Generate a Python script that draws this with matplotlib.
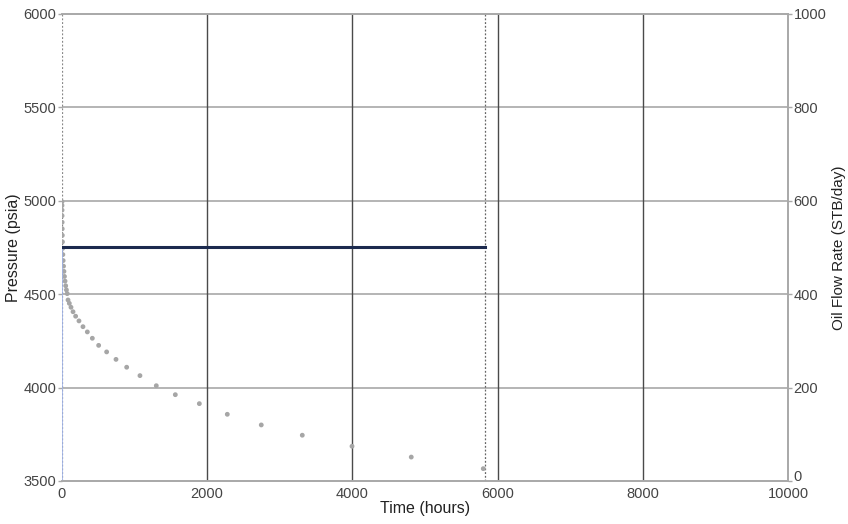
import numpy as np
import matplotlib.pyplot as plt
from matplotlib.transforms import ScaledTranslation

plt.rcParams['font.family'] = ['Liberation Sans', 'DejaVu Sans']

# flowing bottomhole pressure, hours / psia
t_p = [0, 0.3, 0.7, 1.2, 2, 3, 4.5, 6.5, 9, 12, 16, 21, 27, 34, 42, 51, 61, 72, 83,
       101, 124, 152, 188, 234, 289, 349, 418, 505, 615, 744, 891, 1074, 1299,
       1561, 1892, 2277, 2745, 3310, 3995, 4811, 5803]
p_wf = [4995, 4975, 4950, 4920, 4885, 4850, 4815, 4780, 4745, 4712, 4680, 4650,
        4622, 4595, 4570, 4545, 4523, 4503, 4469,
        4451, 4430, 4406, 4382, 4357, 4326, 4298, 4264, 4226, 4191, 4151, 4109,
        4064, 4010, 3962, 3914, 3857, 3800, 3745, 3686, 3628, 3566]

# oil rate schedule
t_q = [0, 5820]
q_o = [500, 500]
t_end = 5820

fig = plt.figure(figsize=(8.48, 5.24), dpi=100)
ax = fig.add_axes([0.0731, 0.0821, 0.8561, 0.8912])
ax2 = ax.twinx()

ax.set_xlim(0, 10000)
ax.set_ylim(3500, 6000)
ax2.set_ylim(0, 1000)

ax.set_xticks([0, 2000, 4000, 6000, 8000, 10000])
ax.set_yticks([3500, 4000, 4500, 5000, 5500, 6000])
ax2.set_yticks([0, 200, 400, 600, 800, 1000])

for y in [4000, 4500, 5000, 5500]:
    ax.axhline(y, color='#a8a8a8', lw=1.2, zorder=0)
for x in [2000, 4000, 6000, 8000]:
    ax.axvline(x, color='#4a4a4a', lw=1.0, zorder=0)

# production period markers
ax.axvline(0, color='#888888', lw=0.9, ls=(0, (1.5, 1.5)), zorder=1)
ax.axvline(t_end, color='#666666', lw=0.9, ls=(0, (1.5, 1.5)), zorder=1)

ax.scatter(t_p, p_wf, s=12, color='#a6a6a6', edgecolors='none', zorder=3)

ax2.plot([0, 0], [0, q_o[0]], color='#9fb3e8', lw=1.2, zorder=2)
ax2.plot(t_q, q_o, color='#1c2a4e', lw=2.2, zorder=4)

for a in (ax, ax2):
    for s in a.spines.values():
        s.set_color('#a8a8a8')
        s.set_linewidth(1.2)
    a.spines['left'].set_visible(False)
    a.tick_params(colors='#a8a8a8', labelcolor='#444444', labelsize=10.5,
                  length=3, width=1)

ax.tick_params(axis='x', length=0, pad=4)
ax.tick_params(axis='y', pad=1)
ax2.tick_params(axis='y', pad=1)

# lift the bottom rate label clear of the last time label
fig.canvas.draw()
lab0 = ax2.get_yticklabels()[0]
lab0.set_transform(lab0.get_transform() + ScaledTranslation(0, 4 / 72, fig.dpi_scale_trans))

ax.set_xlabel('Time (hours)', fontsize=11.5, color='#222222', labelpad=0)
ax.set_ylabel('Pressure (psia)', fontsize=11.5, color='#222222', labelpad=2)
ax2.set_ylabel('Oil Flow Rate (STB/day)', fontsize=11, color='#222222')
ax2.yaxis.set_label_coords(1.061, 0.5)

plt.savefig('out.png', dpi=100)
